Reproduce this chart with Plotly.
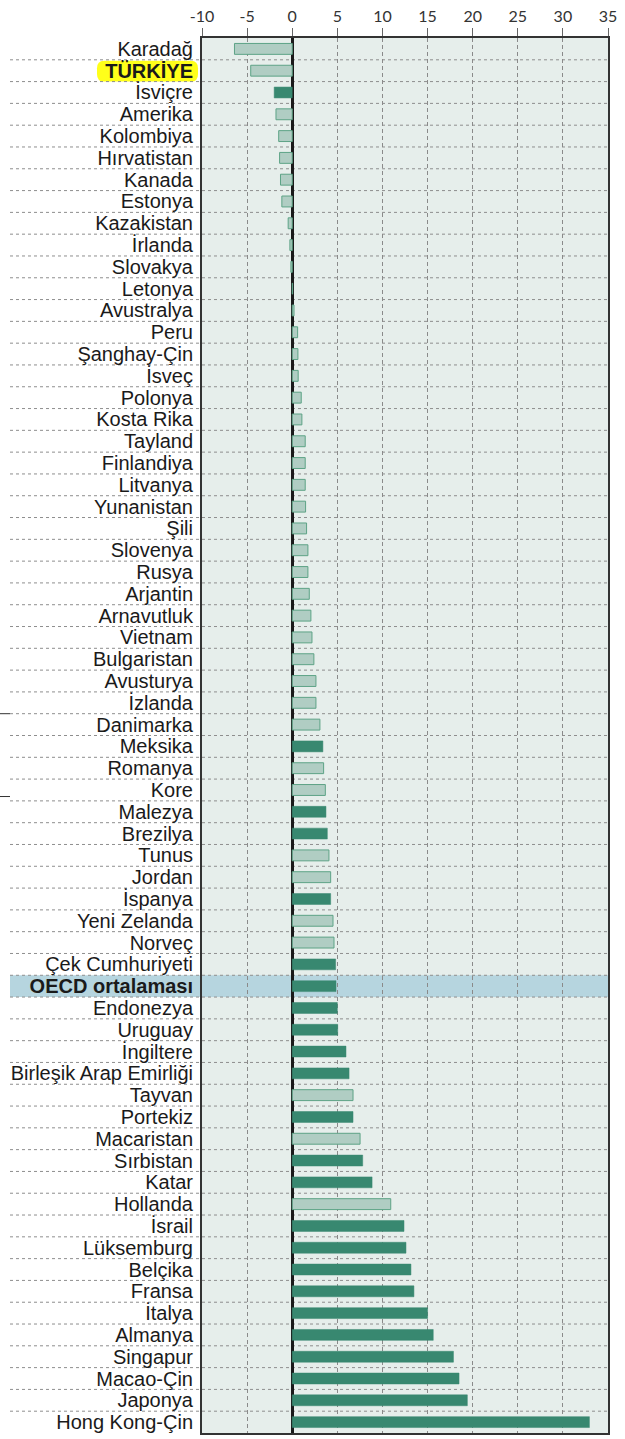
import plotly.graph_objects as go

countries = ["Karadağ", "TÜRKİYE", "İsviçre", "Amerika", "Kolombiya", "Hırvatistan", "Kanada", "Estonya",
             "Kazakistan", "İrlanda", "Slovakya", "Letonya", "Avustralya", "Peru", "Şanghay-Çin", "İsveç",
             "Polonya", "Kosta Rika", "Tayland", "Finlandiya", "Litvanya", "Yunanistan", "Şili", "Slovenya",
             "Rusya", "Arjantin", "Arnavutluk", "Vietnam", "Bulgaristan", "Avusturya", "İzlanda", "Danimarka",
             "Meksika", "Romanya", "Kore", "Malezya", "Brezilya", "Tunus", "Jordan", "İspanya",
             "Yeni Zelanda", "Norveç", "Çek Cumhuriyeti", "OECD ortalaması", "Endonezya", "Uruguay",
             "İngiltere", "Birleşik Arap Emirliği", "Tayvan", "Portekiz", "Macaristan", "Sırbistan", "Katar",
             "Hollanda", "İsrail", "Lüksemburg", "Belçika", "Fransa", "İtalya", "Almanya", "Singapur",
             "Macao-Çin", "Japonya", "Hong Kong-Çin"]

values = [-6.4, -4.6, -2.0, -1.8, -1.5, -1.4, -1.3, -1.15,
          -0.45, -0.26, -0.15, 0.05, 0.2, 0.6, 0.63, 0.66,
          1.0, 1.07, 1.44, 1.44, 1.44, 1.48, 1.59, 1.74,
          1.74, 1.89, 2.07, 2.19, 2.4, 2.63, 2.63, 3.07,
          3.4, 3.48, 3.67, 3.74, 3.89, 4.07, 4.26, 4.26,
          4.52, 4.63, 4.81, 4.85, 5.0, 5.04,
          5.96, 6.3, 6.74, 6.74, 7.52, 7.81, 8.85,
          10.92, 12.39, 12.61, 13.16, 13.49, 15.0, 15.63, 17.87,
          18.49, 19.41, 32.94]

# 1 = significant (dark bar), 0 = not significant (light bar)
significant = [0, 0, 1, 0, 0, 0, 0, 0,
               0, 0, 0, 0, 0, 0, 0, 0,
               0, 0, 0, 0, 0, 0, 0, 0,
               0, 0, 0, 0, 0, 0, 0, 0,
               1, 0, 0, 1, 1, 0, 0, 1,
               0, 0, 1, 1, 1, 1,
               1, 1, 0, 1, 0, 1, 1,
               0, 1, 1, 1, 1, 1, 1, 1,
               1, 1, 1]

x_ticks = [-10, -5, 0, 5, 10, 15, 20, 25, 30, 35]

DARK = "#388870"
LIGHT = "#b0cdc3"
LIGHT_LINE = "#5da386"

idx = list(range(len(countries)))
dark_y = [i for i in idx if significant[i]]
light_y = [i for i in idx if not significant[i]]

fig = go.Figure()
fig.add_trace(go.Bar(
    y=light_y, x=[values[i] for i in light_y], orientation="h", width=0.5,
    marker=dict(color=LIGHT, line=dict(color=LIGHT_LINE, width=1)), showlegend=False,
))
fig.add_trace(go.Bar(
    y=dark_y, x=[values[i] for i in dark_y], orientation="h", width=0.5,
    marker=dict(color=DARK, line=dict(color=DARK, width=0.5)), showlegend=False,
))

ticktext = []
for c in countries:
    if c in ("TÜRKİYE", "OECD ortalaması"):
        ticktext.append(f"<b>{c}</b>")
    else:
        ticktext.append(c)

W, H = 625, 1439
L, R, T, B = 202, 17, 38, 6
pw = W - L - R


def px(xpage):
    return (xpage - L) / pw


left_paper = px(10)

shapes = []
# OECD band
oi = countries.index("OECD ortalaması")
shapes.append(dict(type="rect", xref="paper", yref="y", x0=left_paper, x1=1, y0=oi - 0.5, y1=oi + 0.5,
                   fillcolor="#b6d5df", line=dict(width=0), layer="below"))
# Türkiye highlight (rounded)
ti = countries.index("TÜRKİYE")
hx0 = px(97)
hx1 = px(198)
r = 7 / pw
y0, y1 = ti - 0.46, ti + 0.5
ry = 0.35
path = (f"M {hx0 + r},{y0} L {hx1 - r},{y0} Q {hx1},{y0} {hx1},{y0 + ry} "
        f"L {hx1},{y1 - ry} Q {hx1},{y1} {hx1 - r},{y1} L {hx0 + r},{y1} "
        f"Q {hx0},{y1} {hx0},{y1 - ry} L {hx0},{y0 + ry} Q {hx0},{y0} {hx0 + r},{y0} Z")
shapes.append(dict(type="path", xref="paper", yref="y", path=path, fillcolor="#ffff1a",
                   line=dict(width=0), layer="below"))
# row separators
for i in range(len(countries) - 1):
    shapes.append(dict(type="line", xref="paper", yref="y", x0=left_paper, x1=1, y0=i + 0.5, y1=i + 0.5,
                       line=dict(color="#8e8e8e", width=1, dash="3px,3px"), layer="below"))
# small marks on the left edge
for yy in (30.5, 34.3):
    shapes.append(dict(type="line", xref="paper", yref="y", x0=px(0), x1=px(10), y0=yy, y1=yy,
                       line=dict(color="#333333", width=1)))

fig.update_layout(
    width=W, height=H,
    margin=dict(l=L, r=R, t=T, b=B, autoexpand=False),
    paper_bgcolor="white",
    plot_bgcolor="#e6eeeb",
    barmode="overlay",
    hovermode=False,
    shapes=shapes,
    xaxis=dict(
        range=[-10, 35], side="top", tickvals=x_ticks, ticktext=[str(v) for v in x_ticks],
        tickfont=dict(family="Lato", size=16, color="#333333"),
        ticks="outside", ticklen=8, tickcolor="#666666", tickwidth=1,
        showgrid=True, gridcolor="#8a8a8a", gridwidth=1, griddash="4px,3px",
        zeroline=True, zerolinecolor="#1a1a1a", zerolinewidth=2.5,
        showline=True, linecolor="#333333", linewidth=2, mirror=True,
        fixedrange=True, automargin=False,
    ),
    yaxis=dict(
        range=[len(countries) - 0.5, -0.5], tickvals=idx, ticktext=ticktext,
        tickfont=dict(family="Liberation Sans", size=20, color="#1a1a1a"),
        ticks="", ticklabelstandoff=3, showgrid=False, zeroline=False,
        showline=True, linecolor="#333333", linewidth=2, mirror=True,
        fixedrange=True, automargin=False,
    ),
)

fig.write_html("out.html", config={"displayModeBar": False},
               post_script="document.body.style.margin='0';")
